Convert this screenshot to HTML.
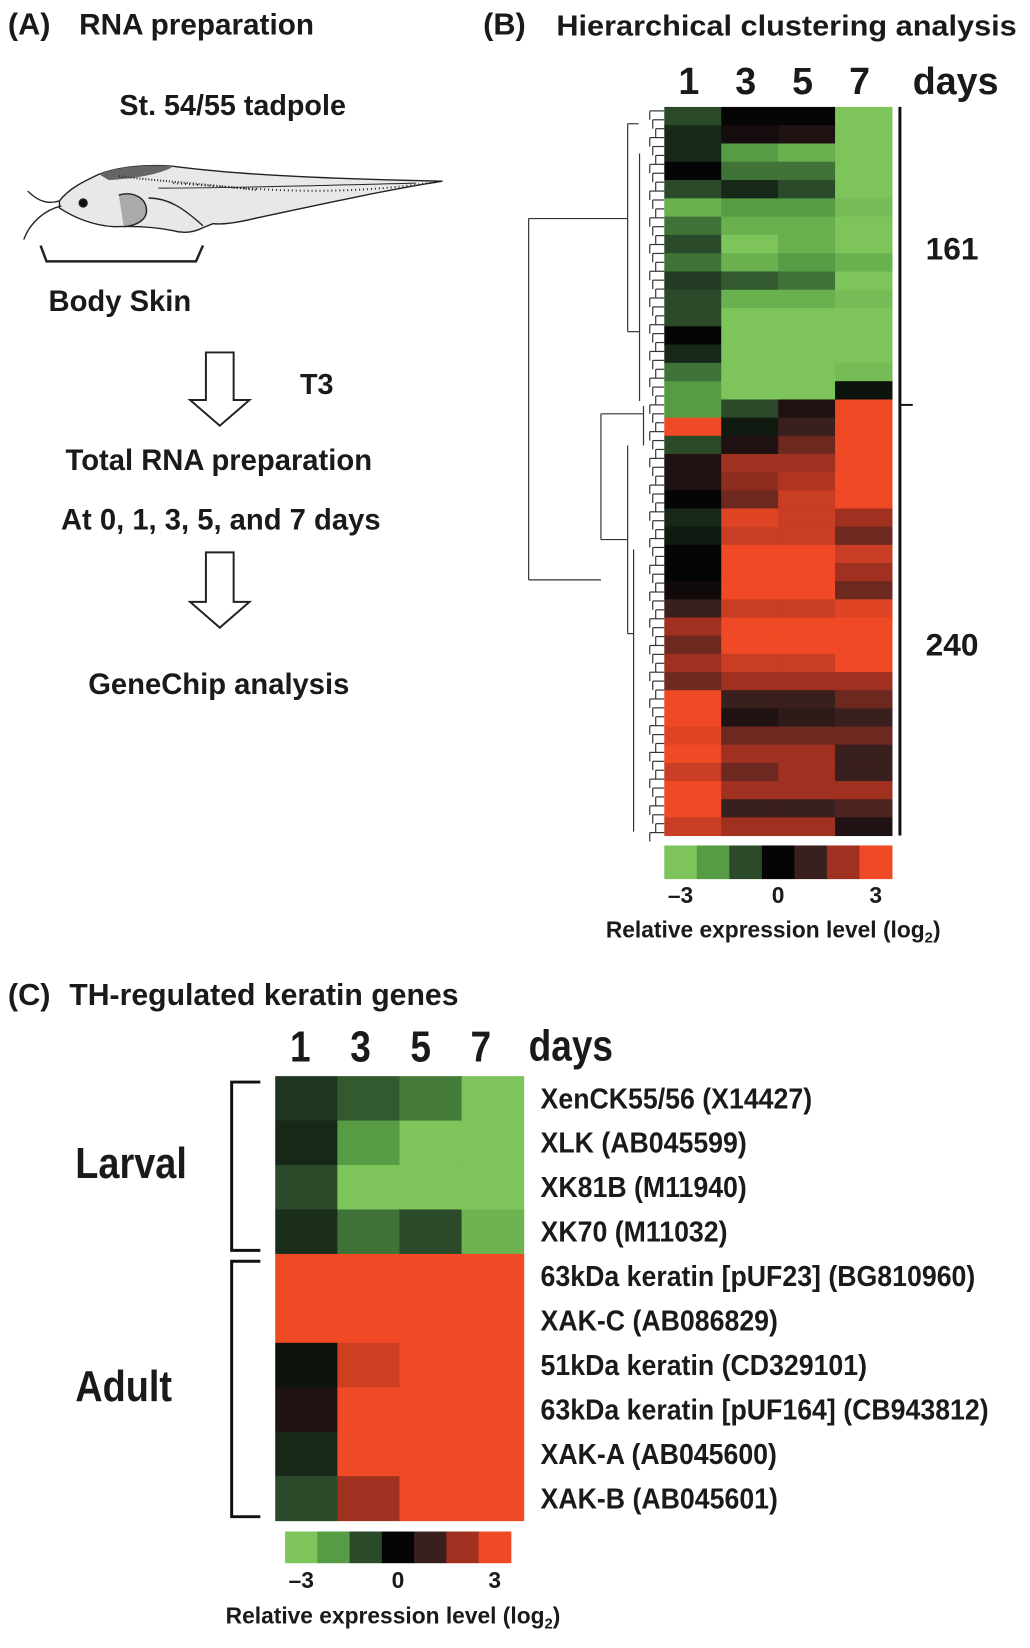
<!DOCTYPE html>
<html><head><meta charset="utf-8">
<style>
html,body{margin:0;padding:0;background:#fff;}
body{width:1030px;height:1648px;position:relative;overflow:hidden;font-family:"Liberation Sans",sans-serif;font-weight:bold;color:#1a1a1a;}
svg{position:absolute;left:0;top:0;}
</style></head>
<body>
<svg id="fig" width="1030" height="1648" viewBox="0 0 1030 1648">
 <g transform="scale(0.99)">
  <!-- Panel A -->
  <g font-family="Liberation Sans, sans-serif" font-weight="bold" fill="#1a1a1a">
    <text x="8" y="35" font-size="31">(A)</text>
    <text x="80" y="35" font-size="30">RNA preparation</text>
    <text x="235" y="116" font-size="29" text-anchor="middle">St. 54/55 tadpole</text>
    <g stroke="#222" fill="none" stroke-width="1.4">
      <path d="M60,203 C70,190 85,183 100,176 C120,168 150,166 175,168 C230,175 300,180 447,183 C400,190 330,205 260,220 C240,225 225,227 215,226 L205,230 C195,235 185,236 175,233 C160,230 140,228 115,229 C95,228 75,220 60,210 Z" fill="#e8e8e8"/>
      <path d="M100,176 C120,168 150,166 175,168 C165,175 140,180 110,182 Z" fill="#666" stroke="none"/>
      <path d="M160,190 C220,190 300,188 420,185" stroke-width="1"/>
      <path d="M120,197 C135,193 148,200 148,213 C148,222 138,228 125,229" fill="#aaa"/>
      <path d="M150,200 C170,200 185,210 205,228" />
      <circle cx="84" cy="205" r="4" fill="#111"/>
      <path d="M60,203 C50,206 40,205 28,193" />
      <path d="M62,208 C45,212 30,225 24,242" />
      <path d="M175,185 C250,190 330,200 440,184" stroke-dasharray="1 3" stroke-width="2"/>
      <path d="M120,178 C150,182 200,185 260,192" stroke-dasharray="1 2" stroke-width="2"/>
    </g>
    <path d="M41,248 L47,264 L198,264 L205,248" stroke="#222" stroke-width="2.5" fill="none"/>
    <text x="49" y="314" font-size="29.5">Body Skin</text>
    <path d="M208,356 L236,356 L236,404 L252,404 L222,430 L192,404 L208,404 Z" fill="#fff" stroke="#222" stroke-width="2"/>
    <text x="303" y="398" font-size="29">T3</text>
    <text x="221" y="475" font-size="29.5" text-anchor="middle">Total RNA preparation</text>
    <text x="223" y="535" font-size="29.5" text-anchor="middle">At 0, 1, 3, 5, and 7 days</text>
    <path d="M208,558 L236,558 L236,608 L252,608 L222,634 L192,608 L208,608 Z" fill="#fff" stroke="#222" stroke-width="2"/>
    <text x="221" y="701" font-size="29.5" text-anchor="middle">GeneChip analysis</text>
  </g>

  <!-- Panel B -->
  <g font-family="Liberation Sans, sans-serif" font-weight="bold" fill="#1a1a1a">
    <text x="488" y="35" font-size="31">(B)</text>
    <text x="562" y="36" font-size="29" textLength="465" lengthAdjust="spacingAndGlyphs">Hierarchical clustering analysis</text>
    <g id="bDays" font-size="38" text-anchor="middle"></g>
    <text x="922" y="95" font-size="38">days</text>
    <g id="bDendro" stroke="#333" stroke-width="1.2" fill="none"></g>
    <g id="bHeat"></g>
    <line x1="909" y1="108" x2="909" y2="844" stroke="#111" stroke-width="3"/>
    <line x1="909" y1="409" x2="922" y2="409" stroke="#111" stroke-width="2"/>
    <text x="935" y="262" font-size="32">161</text>
    <text x="935" y="662" font-size="32">240</text>
    <g id="bBar"></g>
    <text x="781" y="947" font-size="23" text-anchor="middle">Relative expression level (log<tspan font-size="15" dy="5">2</tspan><tspan dy="-5">)</tspan></text>
  </g>

  <!-- Panel C -->
  <g font-family="Liberation Sans, sans-serif" font-weight="bold" fill="#1a1a1a">
    <text x="8" y="1015" font-size="31">(C)</text>
    <text x="70" y="1015" font-size="30.5">TH-regulated keratin genes</text>
    <g id="cDays" font-size="44" text-anchor="middle"></g>
    <text transform="translate(534,1071) scale(0.85,1)" x="0" y="0" font-size="44">days</text>
    <g id="cHeat"></g>
    <g id="cLabels" font-size="29"></g>
    <path d="M263,1093 L234,1093 L234,1263 L263,1263" stroke="#111" stroke-width="3" fill="none"/>
    <path d="M263,1274 L234,1274 L234,1532 L263,1532" stroke="#111" stroke-width="3" fill="none"/>
    <text transform="translate(76,1190) scale(0.87,1)" x="0" y="0" font-size="44">Larval</text>
    <text transform="translate(76,1415) scale(0.87,1)" x="0" y="0" font-size="44">Adult</text>
    <g id="cBar"></g>
    <text x="397" y="1640" font-size="23" text-anchor="middle">Relative expression level (log<tspan font-size="15" dy="5">2</tspan><tspan dy="-5">)</tspan></text>
  </g>
 </g>
</svg>
<script>
var dayLabels = ["1","3","5","7"];
var scaleTicks = ["\u20133","0","3"];
var scaleTickValues = [-3,0,3];
var scaleSteps = [-3,-2,-1,0,1,2,3];
var greenCluster = [
[-1,0,0,-3],[-0.5,0.3,0.5,-3],[-0.5,-2,-2.5,-3],[0,-1.5,-1.5,-3],[-1,-0.5,-1,-3],
[-2.5,-2,-2,-2.8],[-1.5,-2.5,-2.5,-3],[-1,-3,-2.5,-3],[-1.5,-2.5,-2,-2.5],[-0.8,-1.2,-1.5,-3],
[-1,-2.5,-2.5,-2.8],[-1,-3,-3,-3],[0,-3,-3,-3],[-0.5,-3,-3,-3],[-1.5,-3,-3,-2.8],[-2,-3,-3,-0.2]];
var redCluster = [
[-2,-1,0.5,3],[3,-0.3,1,3],[-1,0.5,1.5,3],[0.5,2,2,3],[0.5,1.8,2.2,3],[0,1.5,2.5,3],
[-0.5,2.8,2.5,2],[-0.3,2.5,2.5,1.5],[0,3,3,2.5],[0,3,3,2],[0.2,3,3,1.5],[1,2.5,2.5,2.8],
[2,3,3,3],[1.5,3,3,3],[2,2.5,2.5,3],[1.5,2,2,2],[3,1,1,1.5],[3,0.5,0.8,1],
[2.8,1.5,1.5,1.5],[3,2,2,1],[2.5,1.5,2,1],[3,2,2,2],[3,1,1,1.2],[2.5,2,2,0.5]];
var clusterSizes = [161,240];
var geneNames = ["XenCK55/56 (X14427)","XLK (AB045599)","XK81B (M11940)","XK70 (M11032)",
"63kDa keratin [pUF23] (BG810960)","XAK-C (AB086829)","51kDa keratin (CD329101)",
"63kDa keratin [pUF164] (CB943812)","XAK-A (AB045600)","XAK-B (AB045601)"];
var geneValues = [[-0.7,-1.2,-1.6,-3],[-0.5,-2,-3,-3],[-1,-3.2,-3,-3],[-0.6,-1.5,-1,-2.6],
[3,3,3,3],[3,3,3,3],[-0.2,2.6,3,3],[0.5,3,3,3],[-0.5,3,3,3],[-1,2,3,3]];

var NS="http://www.w3.org/2000/svg";
var pal=[[125,196,90],[85,156,68],[42,74,42],[5,5,5],[58,31,31],[160,48,32],[239,74,37]];
function color(v){v=Math.max(-3,Math.min(3,v));var t=v+3,i=Math.min(5,Math.floor(t)),f=t-i;
 var a=pal[i],b=pal[i+1];return "rgb("+a.map(function(c,k){return Math.round(c+(b[k]-c)*f);}).join(",")+")";}
function mk(tag,attrs,parent){var e=document.createElementNS(NS,tag);for(var k in attrs)e.setAttribute(k,attrs[k]);parent.appendChild(e);return e;}

// Panel B
var bX0=671,bX1=901,bY0=108,bY1=844;
var colW=(bX1-bX0)/dayLabels.length;
var totalGenes=clusterSizes[0]+clusterSizes[1];
var splitY=bY0+(bY1-bY0)*clusterSizes[0]/totalGenes;
function bx(i){return bX0+i*colW;}
var bDays=document.getElementById('bDays');
dayLabels.forEach(function(d,i){var t=mk('text',{x:bx(i)+colW/2-4,y:95},bDays);t.textContent=d;

});
var bHeat=document.getElementById('bHeat');
function drawCluster(rows,y0,y1,name){var h=(y1-y0)/rows.length;
 rows.forEach(function(r,j){r.forEach(function(v,i){
  var c=mk('rect',{x:bx(i),y:y0+j*h,width:colW+0.5,height:h+0.5,fill:color(v)},bHeat);
  
  });});}
drawCluster(greenCluster,bY0,splitY,'down-cluster-cell');
drawCluster(redCluster,splitY,bY1,'up-cluster-cell');
// dendrogram
var dg=document.getElementById('bDendro');
function ln(x1,y1,x2,y2){var l=mk('line',{x1:x1,y1:y1,x2:x2,y2:y2},dg);

}
var gMid=(bY0+splitY)/2, rMid=(splitY+bY1)/2;
ln(534,gMid-35,534,rMid-38);ln(534,gMid-35,634,gMid-35);ln(534,rMid-38,607,rMid-38);
ln(634,125,634,335);ln(634,125,645,125);ln(634,335,646,335);
ln(646,155,646,405);ln(607,418,607,545);ln(607,418,650,418);ln(607,545,634,545);
ln(634,450,634,640);ln(634,640,640,640);ln(640,555,640,840);ln(650,410,650,450);
for(var y=bY0+4;y<bY1;y+=9){ln(655+(y%27)/3,y,bX0,y);ln(655+(y%27)/3,y,655+(y%27)/3,y+9);}
// colorbars
function drawBar(id,x0,x1,y0,y1,ty){var g=document.getElementById(id);var w=(x1-x0)/scaleSteps.length;
 scaleSteps.forEach(function(v,i){var r=mk('rect',{x:x0+i*w,y:y0,width:w+0.5,height:y1-y0,fill:color(v)},g);
  
  });
 scaleTicks.forEach(function(t,i){var x=x0+(scaleTickValues[i]+3)/6*(x1-x0-w)+w/2;
  var e=mk('text',{x:x,y:ty,'text-anchor':'middle','font-size':23},g);e.textContent=t;
  
  });}
drawBar('bBar',671,901,854,888,912);
drawBar('cBar',288,516,1547,1579,1604);

// Panel C
var cX0=278,cX1=529,cY0=1087,cY1=1536;
var cColW=(cX1-cX0)/dayLabels.length,cRowH=(cY1-cY0)/geneNames.length;
var cDays=document.getElementById('cDays'),cHeat=document.getElementById('cHeat'),cLab=document.getElementById('cLabels');
dayLabels.forEach(function(d,i){var t=mk('text',{x:0,y:0,transform:'translate('+(cX0+cColW*(i+0.5)-6-2*i)+',1072) scale(0.85,1)'},cDays);t.textContent=d;

});
geneValues.forEach(function(r,j){r.forEach(function(v,i){
 var c=mk('rect',{x:cX0+i*cColW,y:cY0+j*cRowH,width:cColW+0.5,height:cRowH+0.5,fill:color(v)},cHeat);
 
 });
 var t=mk('text',{x:0,y:0,transform:'translate(546,'+(cY0+j*cRowH+cRowH/2+10)+') scale(0.93,1)'},cLab);t.textContent=geneNames[j];
 
 });
</script>
</body></html>
